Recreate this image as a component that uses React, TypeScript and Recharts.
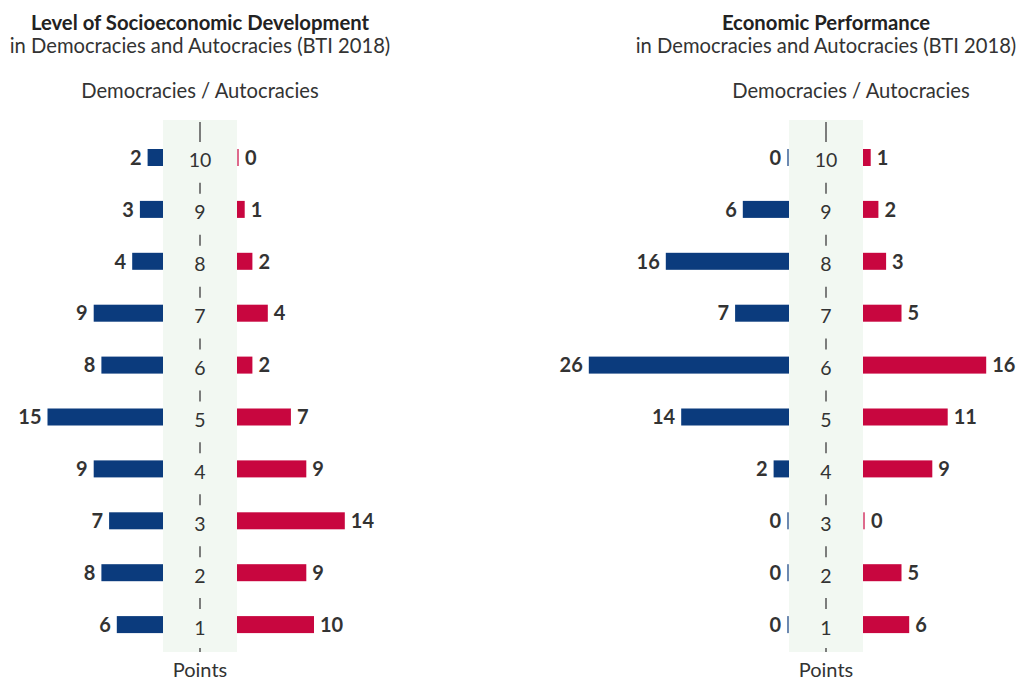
import React from "react"
import { BarChart, Bar, XAxis, YAxis, LabelList } from "recharts"

// Points scale, from top row to bottom row
const points = ["10", "9", "8", "7", "6", "5", "4", "3", "2", "1"]

// Level of Socioeconomic Development
const socioDemocracies = [2, 3, 4, 9, 8, 15, 9, 7, 8, 6]
const socioAutocracies = [0, 1, 2, 4, 2, 7, 9, 14, 9, 10]

// Economic Performance
const econDemocracies = [0, 6, 16, 7, 26, 14, 2, 0, 0, 0]
const econAutocracies = [1, 2, 3, 5, 16, 11, 9, 0, 5, 6]

const BLUE = "#0b3b7d"
const RED = "#c8063f"
const TEXT = "#333333"
const FONT = "Lato, 'Open Sans', sans-serif"

const PX_PER_UNIT = 7.7
const STRIP = 74
const MARGIN = { top: 132, bottom: 29, left: 0, right: 0 }
const H = 680

const buildRows = (dem: number[], aut: number[]) =>
  points.map((p, i) => ({ points: p, dem: dem[i], aut: aut[i] }))

// bars with a thin stub for zero values
const barShape = (side: "left" | "right") => (props: any) => {
  const { x, y, width, height, fill } = props
  let x0 = Math.min(x, x + width)
  let w = Math.abs(width)
  let opacity = 1
  if (w < 2) {
    w = 2
    opacity = 0.6
    if (side === "left") x0 = x0 - 2
  }
  return <rect x={x0} y={y} width={w} height={height} fill={fill} fillOpacity={opacity} />
}

const valueLabel = (side: "left" | "right") => (props: any) => {
  const vb = props.viewBox || {}
  const x = props.x ?? vb.x
  const y = props.y ?? vb.y
  const width = props.width ?? vb.width ?? 0
  const height = props.height ?? vb.height ?? 0
  const left = Math.min(x, x + width)
  const right = Math.max(x, x + width)
  const w = Math.abs(width)
  const tx = side === "left" ? (w < 2 ? right - 2 : left) - 6 : (w < 2 ? left + 2 : right) + 6
  return (
    <text
      x={tx}
      y={y + height / 2}
      dy="0.36em"
      textAnchor={side === "left" ? "end" : "start"}
      fill={TEXT}
      fontFamily={FONT}
      fontWeight={700}
      fontSize={20}
    >
      {props.value}
    </text>
  )
}

const CenterTick = (props: any) => {
  const { y, payload, index } = props
  const cx = STRIP / 2
  const last = index === points.length - 1
  return (
    <g>
      <line x1={cx} x2={cx} y1={y - (index === 0 ? 36 : 27)} y2={y - 16} stroke="#555" strokeWidth={1.5} />
      {last && <line x1={cx} x2={cx} y1={y + 23} y2={y + 27} stroke="#555" strokeWidth={1.5} />}
      <text x={cx} y={y} dy={9.5} textAnchor="middle" fill={TEXT} fontFamily={FONT} fontSize={19.5}>
        {payload.value}
      </text>
    </g>
  )
}

type PanelProps = {
  cx: number
  title: string
  dem: number[]
  aut: number[]
  leftW: number
  rightW: number
  legendShift?: number
}

function Panel({ cx, title, dem, aut, leftW, rightW, legendShift = 0 }: PanelProps) {
  const rows = buildRows(dem, aut)
  const textBox = (top: number, size: number, weight: number, text: string, shift = 0) => (
    <div
      style={{
        position: "absolute",
        left: cx - 250 + shift,
        width: 500,
        top,
        textAlign: "center",
        fontFamily: FONT,
        fontSize: size,
        lineHeight: `${size}px`,
        fontWeight: weight,
        color: weight > 500 ? "#222" : TEXT,
        whiteSpace: "nowrap",
      }}
    >
      {text}
    </div>
  )
  return (
    <>
      <div
        style={{
          position: "absolute",
          left: cx - STRIP / 2,
          top: 120,
          width: STRIP,
          height: 532,
          background: "#f2f8f2",
        }}
      />
      {textBox(12, 20.3, 700, title)}
      {textBox(35, 20.2, 400, "in Democracies and Autocracies (BTI 2018)")}
      {textBox(80, 20.2, 400, "Democracies / Autocracies", legendShift)}
      {textBox(659, 20, 400, "Points")}

      <div style={{ position: "absolute", left: cx - STRIP / 2 - leftW, top: 0 }}>
        <BarChart width={leftW} height={H} data={rows} layout="vertical" margin={MARGIN} barCategoryGap={0}>
          <XAxis type="number" domain={[0, leftW / PX_PER_UNIT]} reversed hide allowDataOverflow />
          <YAxis type="category" dataKey="points" hide />
          <Bar dataKey="dem" fill={BLUE} barSize={17} isAnimationActive={false} shape={barShape("left")}>
            <LabelList dataKey="dem" content={valueLabel("left")} />
          </Bar>
        </BarChart>
      </div>

      <div style={{ position: "absolute", left: cx - STRIP / 2, top: 0 }}>
        <BarChart width={STRIP + rightW} height={H} data={rows} layout="vertical" margin={MARGIN} barCategoryGap={0}>
          <XAxis type="number" domain={[0, rightW / PX_PER_UNIT]} hide allowDataOverflow />
          <YAxis
            type="category"
            dataKey="points"
            width={STRIP}
            axisLine={false}
            tickLine={false}
            tick={<CenterTick />}
            interval={0}
          />
          <Bar dataKey="aut" fill={RED} barSize={17} isAnimationActive={false} shape={barShape("right")}>
            <LabelList dataKey="aut" content={valueLabel("right")} />
          </Bar>
        </BarChart>
      </div>
    </>
  )
}

export default function App() {
  return (
    <div style={{ position: "absolute", left: 0, top: 0, width: 1022, height: 680, background: "#fff" }}>
      <Panel
        cx={200}
        title="Level of Socioeconomic Development"
        dem={socioDemocracies}
        aut={socioAutocracies}
        leftW={163}
        rightW={220}
      />
      <Panel
        cx={826}
        title="Economic Performance"
        dem={econDemocracies}
        aut={econAutocracies}
        leftW={269}
        rightW={159}
        legendShift={25}
      />
    </div>
  )
}
